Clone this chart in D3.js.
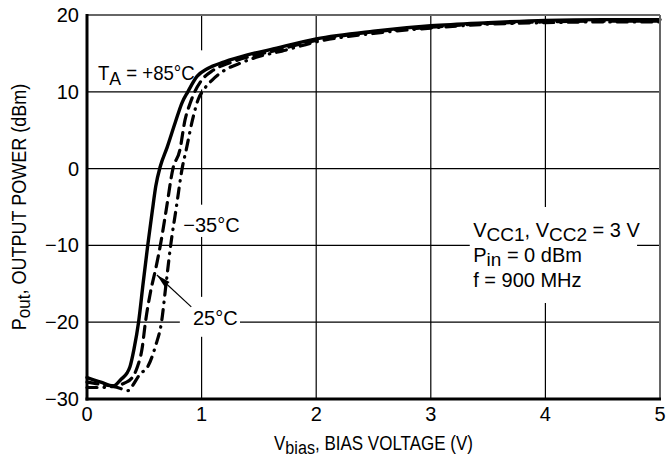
<!DOCTYPE html>
<html><head><meta charset="utf-8">
<script src="https://cdn.jsdelivr.net/npm/d3@7"></script>
<style>body{margin:0;background:#fff}text{font-family:"Liberation Sans",Arial,sans-serif;fill:#000}</style>
</head><body><svg id="c" width="668" height="459"></svg>
<script>
const xTicks = [0, 1, 2, 3, 4, 5];
const yTicks = [-30, -20, -10, 0, 10, 20];

const v85 = [0, 0.12, 0.23, 0.30, 0.35, 0.375, 0.41, 0.45, 0.49, 0.53, 0.57, 0.60, 0.64, 0.70, 0.77, 0.83, 0.88, 0.96, 1.05, 1.2, 1.4, 1.6, 2, 2.5, 3, 3.5, 4, 4.5, 5];
const p85 = [-27.2, -27.8, -28.3, -27.4, -26.6, -25.8, -23.5, -20.0, -14.9, -10.0, -5.5, -2.3, 0.3, 2.8, 6.0, 8.6, 10.0, 12.0, 13.0, 13.9, 14.8, 15.5, 16.9, 17.9, 18.6, 19.0, 19.3, 19.4, 19.4];

const v25 = [0, 0.12, 0.23, 0.33, 0.39, 0.44, 0.48, 0.51, 0.555, 0.60, 0.64, 0.69, 0.75, 0.81, 0.855, 0.90, 0.94, 1.0, 1.1, 1.25, 1.45, 1.65, 2, 2.5, 3, 3.5, 4, 4.5, 5];
const p25 = [-27.8, -28.1, -28.3, -27.9, -27.3, -25.8, -23.5, -20.0, -16.0, -13.0, -10.0, -5.5, 0, 2.4, 6.3, 8.5, 10.0, 11.5, 12.8, 13.8, 14.7, 15.4, 16.7, 17.8, 18.4, 18.9, 19.1, 19.2, 19.2];

const vm35 = [0, 0.12, 0.23, 0.36, 0.40, 0.46, 0.53, 0.60, 0.65, 0.69, 0.73, 0.78, 0.83, 0.865, 0.92, 0.97, 1.02, 1.09, 1.2, 1.35, 1.5, 1.7, 2, 2.5, 3, 3.5, 4, 4.5, 5];
const pm35 = [-28.5, -28.5, -28.4, -28.9, -28.2, -26.8, -25.8, -23.0, -20.0, -15.0, -10.0, -5.0, 0, 2.4, 6.3, 9.0, 10.3, 11.5, 12.8, 13.8, 14.6, 15.3, 16.5, 17.6, 18.3, 18.8, 19.0, 19.1, 19.1];

const L = 87, R = 660, T = 15, B = 399;
const svg = d3.select("#c");
const x = d3.scaleLinear().domain([0, 5]).range([L, R]);
const y = d3.scaleLinear().domain([-30, 20]).range([B, T]);
const FS = 20;

// grid
const g = svg.append("g");
g.selectAll(".vg").data(xTicks.slice(1, -1)).enter().append("line")
  .attr("x1", d => x(d)).attr("x2", d => x(d)).attr("y1", T).attr("y2", B)
  .attr("stroke", "#000").attr("stroke-width", 1.2);
g.selectAll(".hg").data(yTicks.slice(1, -1)).enter().append("line")
  .attr("y1", d => y(d)).attr("y2", d => y(d)).attr("x1", L).attr("x2", R)
  .attr("stroke", "#000").attr("stroke-width", 1.2);

// label backgrounds (white boxes interrupting grid)
const boxes = [[0.04, 1.02, 15.4, 10.3], [0.81, 1.34, -4.7, -8.9], [0.81, 1.335, -16.7, -21.9], [3.34, 4.8, -5.0, -17.5]];
svg.selectAll(".bx").data(boxes).enter().append("rect")
  .attr("x", d => x(d[0])).attr("width", d => x(d[1]) - x(d[0]))
  .attr("y", d => y(d[2])).attr("height", d => y(d[3]) - y(d[2]))
  .attr("fill", "#fff");

// curves
const line = d3.line().x(d => x(d[0])).y(d => y(d[1])).curve(d3.curveMonotoneX);
const series = [
  {v: v85, p: p85, dash: null, w: 3.4},
  {v: v25, p: p25, dash: "11,7", w: 3.2},
  {v: vm35, p: pm35, dash: "10,7,0.5,7", w: 3.2}
];
series.forEach(s => {
  svg.append("path").attr("d", line(d3.zip(s.v, s.p)))
    .attr("fill", "none").attr("stroke", "#000").attr("stroke-width", s.w)
    .attr("stroke-linecap", "round").attr("stroke-linejoin", "round")
    .attr("stroke-dasharray", s.dash);
});

// frame
svg.append("line").attr("x1", L).attr("x2", R).attr("y1", T).attr("y2", T).attr("stroke", "#666").attr("stroke-width", 2);
svg.append("line").attr("x1", R).attr("x2", R).attr("y1", T).attr("y2", B).attr("stroke", "#666").attr("stroke-width", 2);
svg.append("line").attr("x1", L).attr("x2", L).attr("y1", T - 1).attr("y2", B + 1.5).attr("stroke", "#000").attr("stroke-width", 3);
svg.append("line").attr("x1", L - 1.5).attr("x2", R + 1).attr("y1", B).attr("y2", B).attr("stroke", "#000").attr("stroke-width", 3);

// tick labels
const fmt = d => d < 0 ? "\u2212" + Math.abs(d) : String(d);
svg.selectAll(".xt").data(xTicks).enter().append("text")
  .attr("x", d => x(d)).attr("y", B + 22).attr("text-anchor", "middle")
  .attr("font-size", FS).text(d => d);
svg.selectAll(".yt").data(yTicks).enter().append("text")
  .attr("x", L - 8).attr("y", d => y(d) + 7).attr("text-anchor", "end")
  .attr("font-size", FS).text(fmt);

// helper for text with subscripts: parts = [[text, sub?], ...]
function rich(sel, parts, sh) {
  sh = sh || 5;
  parts.forEach(([t, sub], i) => {
    const ts = sel.append("tspan").text(t);
    if (sub) ts.attr("dy", sh).attr("font-size", FS - 1);
    else if (i > 0 && parts[i - 1][1]) ts.attr("dy", -sh);
  });
  return sel;
}

// axis titles (horizontally condensed like the reference face)
rich(svg.append("text").attr("transform", `translate(${(L + R) / 2},450) scale(0.85,1)`).attr("text-anchor", "middle").attr("font-size", FS),
  [["V"], ["bias", true], [", BIAS VOLTAGE (V)"]], 4);
rich(svg.append("text").attr("transform", `translate(26,${(T + B) / 2}) rotate(-90) scale(0.9,1)`).attr("text-anchor", "middle").attr("font-size", FS),
  [["P"], ["out", true], [", OUTPUT POWER (dBm)"]], 4);

// annotations
rich(svg.append("text").attr("transform", `translate(${x(0.096)},${y(11.6)}) scale(0.93,1)`).attr("font-size", FS),
  [["T"], ["A", true], [" = +85\u00B0C"]]);
svg.append("text").attr("x", x(0.84)).attr("y", y(-8.3)).attr("font-size", FS).text("\u221235\u00B0C");
svg.append("text").attr("x", x(0.925)).attr("y", y(-20.4)).attr("font-size", FS).text("25\u00B0C");

// arrow
const a0 = [x(0.91), y(-18.0)], a1 = [x(0.61), y(-13.85)];
svg.append("line").attr("x1", a0[0]).attr("y1", a0[1]).attr("x2", a1[0]).attr("y2", a1[1]).attr("stroke", "#000").attr("stroke-width", 1.2);
const ang = Math.atan2(a1[1] - a0[1], a1[0] - a0[0]);
const hl = 14, hw = 3.5;
const bx = a1[0] - hl * Math.cos(ang), by = a1[1] - hl * Math.sin(ang);
svg.append("path").attr("d", `M${a1[0]},${a1[1]}L${bx - hw * Math.sin(ang)},${by + hw * Math.cos(ang)}L${bx + hw * Math.sin(ang)},${by - hw * Math.cos(ang)}Z`).attr("fill", "#000");

const cond = [
  [["V"], ["CC1", true], [", V"], ["CC2", true], [" = 3 V"]],
  [["P"], ["in", true], [" = 0 dBm"]],
  [["f = 900 MHz"]]
];
const condY = [-8.9, -12.2, -15.4];
cond.forEach((parts, i) => {
  rich(svg.append("text").attr("x", x(3.37)).attr("y", y(condY[i])).attr("font-size", FS), parts, 4);
});
</script></body></html>
